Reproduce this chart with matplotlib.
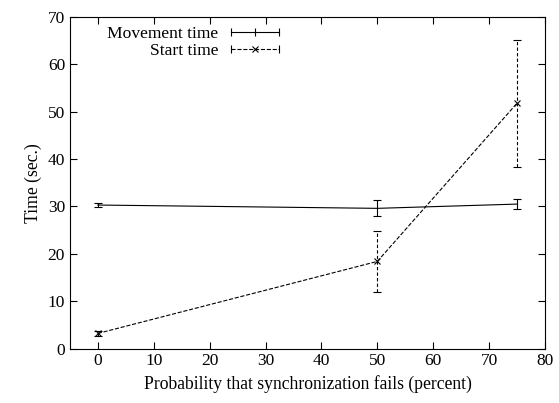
import numpy as np
import matplotlib.pyplot as plt
from matplotlib.lines import Line2D
from matplotlib.legend_handler import HandlerLine2D, HandlerTuple

plt.rcParams['font.family'] = ['Liberation Serif', 'DejaVu Serif']

prob = [0, 50, 75]
move_time = [30.3, 29.6, 30.5]
move_err = [0.5, 1.7, 1.0]
start_time = [3.2, 18.4, 51.8]
start_err = [0.5, 6.4, 13.4]

fig, ax = plt.subplots(figsize=(5.59, 4.03), dpi=100)
fig.subplots_adjust(left=0.125, right=0.975, bottom=0.135, top=0.958)

ax.errorbar(prob, move_time, yerr=move_err, color='black', lw=0.8,
            elinewidth=0.8, capsize=3, capthick=0.8)
eb = ax.errorbar(prob, start_time, yerr=start_err, color='black', lw=0.8, ls='--',
                 marker='x', ms=4, mew=0.8, elinewidth=0.8, capsize=3, capthick=0.8)
eb[2][0].set_linestyle((0, (3, 2)))

ax.set_xlim(-5, 80)
ax.set_ylim(0, 70)
ax.set_xticks(np.arange(0, 81, 10))
ax.set_yticks(np.arange(0, 71, 10))
ax.tick_params(direction='in', top=True, right=True, labelsize=12.5, length=5)
ax.set_xlabel('Probability that synchronization fails (percent)', fontsize=12.7)
ax.set_ylabel('Time (sec.)', fontsize=12.7)

# gnuplot-style key: line with end ticks, text to the left
h_move = Line2D([], [], color='black', lw=0.8, marker='|', ms=6, mew=0.8)
h_start_line = Line2D([], [], color='black', lw=0.8, ls='--', marker='|', ms=6, mew=0.8)
h_start_mark = Line2D([], [], color='black', ls='none', marker='x', ms=4, mew=0.8)
hmap = {h_move: HandlerLine2D(numpoints=3),
        h_start_line: HandlerLine2D(numpoints=2),
        h_start_mark: HandlerLine2D(numpoints=1)}
leg = ax.legend([h_move, (h_start_line, h_start_mark)], ['Movement time', 'Start time'],
                handler_map=hmap | {tuple: HandlerTuple(ndivide=1, pad=0)},
                loc='upper left', frameon=False, markerfirst=False, fontsize=12.6,
                handlelength=3.3, handletextpad=0.45, borderaxespad=0.1,
                labelspacing=0.05, bbox_to_anchor=(0.06, 1.0))
for t in leg.get_texts():
    t.set_ha('right')

fig.savefig('out.png', dpi=100)
